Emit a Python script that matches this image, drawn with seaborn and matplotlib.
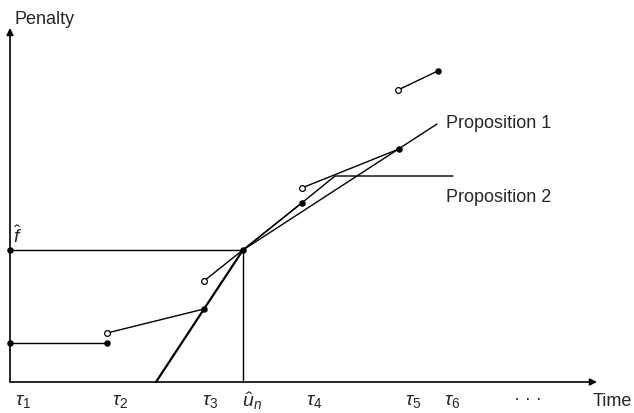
import matplotlib
matplotlib.use("Agg")
import matplotlib.pyplot as plt
import seaborn as sns
import pandas as pd

sns.set_theme(style="white")
plt.rcParams['font.family'] = ['Liberation Sans', 'DejaVu Sans']
plt.rcParams['mathtext.fontset'] = 'custom'
plt.rcParams['mathtext.it'] = 'Liberation Sans:italic'
plt.rcParams['mathtext.rm'] = 'Liberation Sans'

# ---- data (time units, penalty units) ----
tick_names = [r'$\tau_1$', r'$\tau_2$', r'$\tau_3$', r'$\hat{u}_n$', r'$\tau_4$', r'$\tau_5$', r'$\tau_6$']
tick_times = [10, 107, 204, 243, 301.7, 399, 437.7]

# penalty function pieces
piece_x0 = [10, 107, 204, 301.7, 398]
piece_y0 = [39, 49, 101, 194, 292]
piece_x1 = [107, 204, 301.7, 399, 437.7]
piece_y1 = [39, 73, 179, 233, 311]
piece_open_start = [False, True, True, True, True]

f_hat = 132
u_hat = 243

prop1_x = [243, 437]
prop1_y = [132, 258]
prop2_x = [156, 204, 243, 301.7, 335, 453]
prop2_y = [0, 73, 132, 179, 206, 206]

axis_top = 354
axis_right = 597

fig = plt.figure(figsize=(6.34, 4.13), dpi=100)
ax = fig.add_axes([0, 0, 1, 1])
ax.set_xlim(0, 634)
ax.set_ylim(-31, 382)
ax.axis('off')

rows = []
seg = 0
for x0, y0, x1, y1 in zip(piece_x0, piece_y0, piece_x1, piece_y1):
    rows += [dict(seg=seg, x=x0, y=y0), dict(seg=seg, x=x1, y=y1)]
    seg += 1
for x, y in zip(prop1_x, prop1_y):
    rows.append(dict(seg=seg, x=x, y=y))
seg += 1
rows += [dict(seg=seg, x=10, y=f_hat), dict(seg=seg, x=u_hat, y=f_hat)]
seg += 1
rows += [dict(seg=seg, x=u_hat, y=0), dict(seg=seg, x=u_hat, y=f_hat)]
seg += 1
lines = pd.DataFrame(rows)
sns.lineplot(data=lines, x='x', y='y', units='seg', estimator=None, sort=False,
             color='black', linewidth=1.0, ax=ax, legend=False)

p2 = pd.DataFrame(dict(x=prop2_x[:3], y=prop2_y[:3]))
sns.lineplot(data=p2, x='x', y='y', estimator=None, sort=False, color='black', linewidth=1.6, ax=ax)
p2b = pd.DataFrame(dict(x=prop2_x[2:], y=prop2_y[2:]))
sns.lineplot(data=p2b, x='x', y='y', estimator=None, sort=False, color='black', linewidth=1.0, ax=ax)

filled_x = [piece_x0[i] for i in range(len(piece_x0)) if not piece_open_start[i]] + piece_x1 + [10, u_hat]
filled_y = [piece_y0[i] for i in range(len(piece_y0)) if not piece_open_start[i]] + piece_y1 + [f_hat, f_hat]
open_x = [piece_x0[i] for i in range(len(piece_x0)) if piece_open_start[i]]
open_y = [piece_y0[i] for i in range(len(piece_y0)) if piece_open_start[i]]
sns.scatterplot(x=filled_x, y=filled_y, color='black', s=22, edgecolor='black', linewidth=0, ax=ax, zorder=5)
sns.scatterplot(x=open_x, y=open_y, facecolor='white', edgecolor='black', s=17, linewidth=0.9, ax=ax, zorder=5)

ax.annotate('', xy=(10, axis_top), xytext=(10, 0),
            arrowprops=dict(arrowstyle='-|>', color='black', lw=1.2, mutation_scale=10, shrinkA=0, shrinkB=0))
ax.annotate('', xy=(axis_right, 0), xytext=(10, 0),
            arrowprops=dict(arrowstyle='-|>', color='black', lw=1.2, mutation_scale=10, shrinkA=0, shrinkB=0))

fs = 13
ax.text(14, 363, 'Penalty', fontsize=fs, ha='left', va='center')
ax.text(593, -19, 'Time', fontsize=fs, ha='left', va='center')
ax.text(528, -18, '· · ·', fontsize=fs, ha='center', va='center')
label_offsets = [13, 13, 6, 9, 13, 14, 14]
for name, t, off in zip(tick_names, tick_times, label_offsets):
    ax.text(t + off, -19, name, fontsize=fs + 1, ha='center', va='center')
ax.text(18, 146, r'$\hat{f}$', fontsize=fs + 1, ha='center', va='center')
ax.text(446, 258, 'Proposition 1', fontsize=fs, ha='left', va='center')
ax.text(446, 185, 'Proposition 2', fontsize=fs, ha='left', va='center')

fig.savefig('out.png', dpi=100)
